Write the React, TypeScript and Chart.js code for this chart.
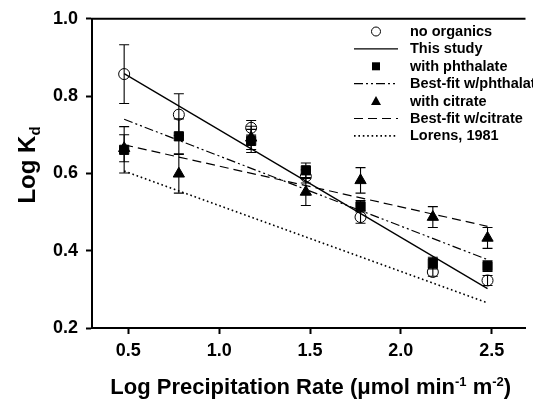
import React, { useEffect, useRef } from 'react';
import { Chart, registerables } from 'chart.js';
Chart.register(...registerables);

// Log precipitation rate (x) for the measured points
const precipRate = [0.477, 0.778, 1.176, 1.477, 1.778, 2.176, 2.477];
// Measured Log Kd
const noOrganics = [0.857, 0.752, 0.718, 0.592, 0.487, 0.345, 0.323];
const noOrganicsErr = [0.076, 0.054, 0.019, 0.017, 0.016, 0.011, 0.013];
const phthalate = [0.661, 0.696, 0.684, 0.608, 0.515, 0.368, 0.36];
const phthalateErr = [0.06, 0.045, 0.03, 0.019, 0.015, 0.015, 0.014];
const citrate = [0.665, 0.599, 0.692, 0.552, 0.582, 0.487, 0.433];
const citrateErr = [0.035, 0.05, 0.03, 0.035, 0.033, 0.027, 0.027];
// Fit lines (endpoints)
const fitX = [0.477, 2.477];
const thisStudy = [0.858, 0.302];
const fitPhthalate = [0.74, 0.377];
const fitCitrate = [0.674, 0.463];
const lorens1981 = [0.606, 0.265];
// Axis ticks
const xTicks = [0.5, 1.0, 1.5, 2.0, 2.5];
const yTicks = [0.2, 0.4, 0.6, 0.8, 1.0];

const FONT = '"Liberation Sans", Arial, Helvetica, sans-serif';

const pts = (xs: number[], ys: number[]) => xs.map((x, i) => ({ x, y: ys[i] }));

const errorBars: Record<number, number[]> = { 0: noOrganicsErr, 2: phthalateErr, 4: citrateErr };

const errorBarPlugin = {
  id: 'errorBars',
  beforeDatasetsDraw(chart: any) {
    const { ctx, scales } = chart;
    const xs = scales.x, ys = scales.y;
    ctx.save();
    ctx.strokeStyle = '#000';
    ctx.lineWidth = 1.1;
    Object.keys(errorBars).forEach((k) => {
      const di = Number(k);
      const ds = chart.data.datasets[di];
      const errs = errorBars[di];
      ds.data.forEach((p: any, i: number) => {
        const px = xs.getPixelForValue(p.x);
        const top = ys.getPixelForValue(p.y + errs[i]);
        const bot = ys.getPixelForValue(p.y - errs[i]);
        ctx.beginPath();
        ctx.moveTo(px, top);
        ctx.lineTo(px, bot);
        ctx.moveTo(px - 5, top);
        ctx.lineTo(px + 5, top);
        ctx.moveTo(px - 5, bot);
        ctx.lineTo(px + 5, bot);
        ctx.stroke();
      });
    });
    ctx.restore();
  },
};

const framePlugin = {
  id: 'frameAndTitles',
  afterDraw(chart: any) {
    const { ctx, chartArea } = chart;
    ctx.save();
    // top frame line
    ctx.strokeStyle = '#000';
    ctx.lineWidth = 2;
    ctx.beginPath();
    ctx.moveTo(chartArea.left - 1, chartArea.top);
    ctx.lineTo(chartArea.right, chartArea.top);
    ctx.stroke();

    ctx.fillStyle = '#000';
    // x title
    const big = `bold 22px ${FONT}`;
    const small = `bold 13px ${FONT}`;
    const parts: [string, boolean][] = [
      ['Log Precipitation Rate (\u03bcmol min', false],
      ['-1', true],
      [' m', false],
      ['-2', true],
      [')', false],
    ];
    let total = 0;
    parts.forEach(([t, sup]) => {
      ctx.font = sup ? small : big;
      total += ctx.measureText(t).width;
    });
    let x = (chartArea.left + chartArea.right) / 2 - total / 2 + 2;
    const base = 394;
    ctx.textBaseline = 'alphabetic';
    ctx.textAlign = 'left';
    parts.forEach(([t, sup]) => {
      ctx.font = sup ? small : big;
      ctx.fillText(t, x, sup ? base - 8 : base);
      x += ctx.measureText(t).width;
    });

    // y title
    ctx.translate(35, 165);
    ctx.rotate(-Math.PI / 2);
    ctx.font = `bold 24px ${FONT}`;
    const main = 'Log K';
    const wMain = ctx.measureText(main).width;
    ctx.font = `bold 15px ${FONT}`;
    const wSub = ctx.measureText('d').width;
    const start = -(wMain + wSub) / 2;
    ctx.font = `bold 24px ${FONT}`;
    ctx.fillText(main, start, 0);
    ctx.font = `bold 15px ${FONT}`;
    ctx.fillText('d', start + wMain, 5);
    ctx.restore();

    // legend
    ctx.save();
    const lx = 376, tx = 410, y0 = 31.5, step = 17.4;
    chart.data.datasets.forEach((ds: any, i: number) => {
      const y = y0 + i * step;
      ctx.strokeStyle = '#000';
      ctx.fillStyle = '#000';
      if (ds.showLine) {
        ctx.lineWidth = ds.borderWidth;
        ctx.setLineDash(ds.borderDash || []);
        ctx.beginPath();
        ctx.moveTo(lx - 22, y);
        ctx.lineTo(lx + 22, y);
        ctx.stroke();
        ctx.setLineDash([]);
      } else if (ds.pointStyle === 'circle') {
        ctx.lineWidth = 1;
        ctx.beginPath();
        ctx.arc(lx, y, 4.5, 0, Math.PI * 2);
        ctx.stroke();
      } else if (ds.pointStyle === 'rect') {
        ctx.fillRect(lx - 4, y - 4, 8, 8);
      } else if (ds.pointStyle === 'triangle') {
        ctx.beginPath();
        ctx.moveTo(lx, y - 5);
        ctx.lineTo(lx + 5, y + 4);
        ctx.lineTo(lx - 5, y + 4);
        ctx.closePath();
        ctx.fill();
      }
      ctx.font = `bold 14.5px ${FONT}`;
      ctx.textBaseline = 'middle';
      ctx.textAlign = 'left';
      ctx.fillText(ds.label, tx, y + 0.5);
    });
    ctx.restore();
  },
};

export default function App() {
  const ref = useRef<HTMLCanvasElement>(null);
  useEffect(() => {
    const canvas = ref.current!;
    const lineDs = (label: string, ys: number[], dash: number[], width: number) => ({
      label,
      data: pts(fitX, ys),
      showLine: true,
      borderColor: '#000',
      borderWidth: width,
      borderDash: dash,
      pointRadius: 0,
      fill: false,
    });
    const pointDs = (label: string, ys: number[], style: string, radius: number, filled: boolean) => ({
      label,
      data: pts(precipRate, ys),
      showLine: false,
      pointStyle: style,
      pointRadius: radius,
      pointBorderColor: '#000',
      pointBackgroundColor: filled ? '#000' : 'rgba(0,0,0,0)',
      pointBorderWidth: 1,
      borderColor: '#000',
      backgroundColor: filled ? '#000' : 'rgba(0,0,0,0)',
    });
    const chart = new Chart(canvas, {
      type: 'scatter',
      data: {
        datasets: [
          pointDs('no organics', noOrganics, 'circle', 5.5, false),
          lineDs('This study', thisStudy, [], 1.3),
          pointDs('with phthalate', phthalate, 'rect', 6.5, true),
          lineDs('Best-fit w/phthalate', fitPhthalate, [9, 3, 2, 3, 2, 3], 1.2),
          pointDs('with citrate', citrate, 'triangle', 6.5, true),
          lineDs('Best-fit w/citrate', fitCitrate, [9, 5], 1.2),
          lineDs('Lorens, 1981', lorens1981, [1.6, 2.8], 1.6),
        ] as any,
      },
      options: {
        animation: false,
        responsive: false,
        layout: { padding: { top: 18, right: 0, left: 0, bottom: 0 } },
        plugins: { legend: { display: false }, tooltip: { enabled: false } },
        scales: {
          x: {
            type: 'linear',
            min: 0.3,
            max: 2.686,
            afterBuildTicks: (s: any) => { s.ticks = xTicks.map((v) => ({ value: v })); },
            afterFit: (s: any) => { s.height = 71; },
            border: { display: true, color: '#000', width: 2 },
            grid: { display: true, drawOnChartArea: false, drawTicks: true, tickLength: 6, tickWidth: 2, tickColor: '#000' },
            ticks: {
              color: '#000',
              padding: 6,
              font: { family: FONT, size: 18, weight: 'bold' },
              callback: (v: any) => Number(v).toFixed(1),
            },
          },
          y: {
            type: 'linear',
            min: 0.2,
            max: 1.0,
            afterBuildTicks: (s: any) => { s.ticks = yTicks.map((v) => ({ value: v })); },
            afterFit: (s: any) => { s.width = 92; },
            border: { display: true, color: '#000', width: 2 },
            grid: { display: true, drawOnChartArea: false, drawTicks: true, tickLength: 6, tickWidth: 2, tickColor: '#000' },
            ticks: {
              color: '#000',
              padding: 8,
              font: { family: FONT, size: 18, weight: 'bold' },
              callback: (v: any) => Number(v).toFixed(1),
            },
          },
        },
      } as any,
      plugins: [errorBarPlugin, framePlugin],
    });
    return () => chart.destroy();
  }, []);
  return (
    <div style={{ position: 'fixed', left: 0, top: 0, width: 533, height: 399, background: '#fff' }}>
      <canvas ref={ref} width={533} height={399} style={{ width: 533, height: 399, display: 'block' }} />
    </div>
  );
}
